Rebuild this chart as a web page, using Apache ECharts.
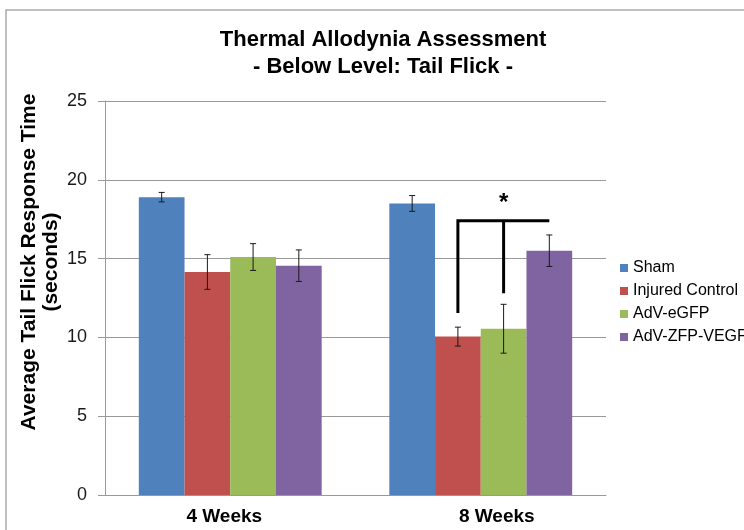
<!DOCTYPE html>
<html>
<head>
<meta charset="utf-8">
<script src="https://cdn.jsdelivr.net/npm/echarts@6/dist/echarts.min.js"></script>
<style>
  html, body { margin: 0; padding: 0; background: #fff; }
  #chart { width: 744px; height: 530px; }
</style>
</head>
<body>
<div id="chart"></div>
<script>
// Time points on the x axis
const categories = ['4 Weeks', '8 Weeks'];

// Group names (legend order)
const groupNames = ['Sham', 'Injured Control', 'AdV-eGFP', 'AdV-ZFP-VEGF'];

// Mean tail flick response time (seconds) per group, per time point
const shamValues = [18.9, 18.5];
const injuredValues = [14.15, 10.05];
const egfpValues = [15.1, 10.55];
const zfpValues = [14.55, 15.5];

// Standard error for each mean
const shamErr = [0.3, 0.5];
const injuredErr = [1.1, 0.6];
const egfpErr = [0.85, 1.55];
const zfpErr = [1.0, 1.0];

// Y axis ticks
const yTicks = [0, 5, 10, 15, 20, 25];

// Significance bracket at 8 weeks: bar level, left leg end, middle leg end
const bracketCategory = 1;
const bracketTop = [17.4];
const bracketLegEnds = [11.55, 12.8];
const bracketMark = '*';

const colors = ['#4F81BD', '#C0504D', '#9BBB59', '#8064A2'];
const allValues = [shamValues, injuredValues, egfpValues, zfpValues];
const allErrors = [shamErr, injuredErr, egfpErr, zfpErr];

const CATEGORY_GAP = 0.27;
const FONT = '"Liberation Sans", Arial, sans-serif';

// Horizontal centre of bar `idx` in category `cat`, in pixels
function barCenter(api, cat, idx) {
  const band = api.size([1, 0])[0];
  const barW = band * (1 - CATEGORY_GAP) / groupNames.length;
  const cx = api.coord([cat, 0])[0];
  return cx - (barW * groupNames.length) / 2 + (idx + 0.5) * barW;
}

const barSeries = groupNames.map((name, i) => ({
  name: name,
  type: 'bar',
  data: allValues[i],
  barGap: '0%',
  barCategoryGap: (CATEGORY_GAP * 100) + '%',
  itemStyle: { color: colors[i] },
  z: 2
}));

// Error bar data: [category, low, high, group index]
const errData = [];
allValues.forEach((vals, g) => {
  vals.forEach((v, c) => {
    errData.push([c, v - allErrors[g][c], v + allErrors[g][c], g]);
  });
});

const errorSeries = {
  type: 'custom',
  name: 'error',
  data: errData,
  z: 5,
  renderItem: function (params, api) {
    const cat = api.value(0);
    const g = api.value(3);
    const x = barCenter(api, cat, g);
    const yLow = api.coord([cat, api.value(1)])[1];
    const yHigh = api.coord([cat, api.value(2)])[1];
    const cap = 3;
    const style = { stroke: '#1a1a1a', lineWidth: 1, fill: null };
    return {
      type: 'group',
      children: [
        { type: 'line', shape: { x1: x, y1: yLow, x2: x, y2: yHigh }, style: style },
        { type: 'line', shape: { x1: x - cap, y1: yLow, x2: x + cap, y2: yLow }, style: style },
        { type: 'line', shape: { x1: x - cap, y1: yHigh, x2: x + cap, y2: yHigh }, style: style }
      ]
    };
  }
};

const bracketSeries = {
  type: 'custom',
  name: 'bracket',
  data: [[bracketCategory, bracketTop[0]]],
  z: 6,
  renderItem: function (params, api) {
    const cat = api.value(0);
    const top = api.coord([cat, api.value(1)])[1];
    const xL = barCenter(api, cat, 1);
    const xM = barCenter(api, cat, 2);
    const xR = barCenter(api, cat, 3);
    const yL = api.coord([cat, bracketLegEnds[0]])[1];
    const yM = api.coord([cat, bracketLegEnds[1]])[1];
    const style = { stroke: '#000', lineWidth: 3, fill: null };
    return {
      type: 'group',
      children: [
        { type: 'polyline', shape: { points: [[xL, yL], [xL, top], [xR, top]] }, style: style },
        { type: 'line', shape: { x1: xM, y1: top, x2: xM, y2: yM }, style: style },
        {
          type: 'text',
          style: {
            text: bracketMark, x: xM, y: top - 17,
            align: 'center', verticalAlign: 'middle',
            font: 'bold 24px ' + FONT, fill: '#000'
          }
        }
      ]
    };
  }
};

const chart = echarts.init(document.getElementById('chart'), null, { renderer: 'canvas' });

chart.setOption({
  backgroundColor: '#fff',
  animation: false,
  title: {
    text: 'Thermal Allodynia Assessment\n- Below Level: Tail Flick -',
    left: 378,
    top: 21,
    textAlign: 'center',
    textStyle: {
      fontFamily: FONT, fontSize: 22, fontWeight: 'bold', color: '#000',
      lineHeight: 27
    }
  },
  legend: {
    data: groupNames,
    orient: 'vertical',
    left: 615,
    top: 255,
    itemWidth: 8,
    itemHeight: 8,
    itemGap: 7,
    icon: 'rect',
    textStyle: { fontFamily: FONT, fontSize: 16, color: '#000' }
  },
  grid: { left: 105, right: 138, top: 101, bottom: 35, containLabel: false },
  xAxis: {
    type: 'category',
    data: [
      { value: categories[0], textStyle: { padding: [0, 12, 0, 0] } },
      { value: categories[1], textStyle: { padding: [0, 0, 0, 32] } }
    ],
    axisLine: { lineStyle: { color: '#999', width: 1 } },
    axisTick: { show: false },
    axisLabel: {
      fontFamily: FONT, fontSize: 19, fontWeight: 'bold', color: '#000', margin: 12
    }
  },
  yAxis: {
    type: 'value',
    min: yTicks[0],
    max: yTicks[yTicks.length - 1],
    interval: yTicks[1] - yTicks[0],
    axisLine: { show: true, lineStyle: { color: '#999', width: 1 } },
    axisTick: { show: true, length: 7, lineStyle: { color: '#999' } },
    splitLine: { show: true, lineStyle: { color: '#999', width: 1 } },
    axisLabel: { fontFamily: FONT, fontSize: 18, color: '#1a1a1a', margin: 18 }
  },
  graphic: [
    {
      type: 'rect',
      shape: { x: 6, y: 10, width: 900, height: 700 },
      style: { fill: null, stroke: '#aaa', lineWidth: 1.5 },
      silent: true,
      z: -1
    },
    {
      // Y axis title
      type: 'text',
      x: 40,
      y: 262,
      rotation: Math.PI / 2,
      style: {
        text: 'Average Tail Flick Response Time\n(seconds)',
        align: 'center',
        verticalAlign: 'middle',
        font: 'bold 21px ' + FONT,
        lineHeight: 22,
        fill: '#000'
      }
    }
  ],
  series: barSeries.concat([errorSeries, bracketSeries])
});
</script>
</body>
</html>
